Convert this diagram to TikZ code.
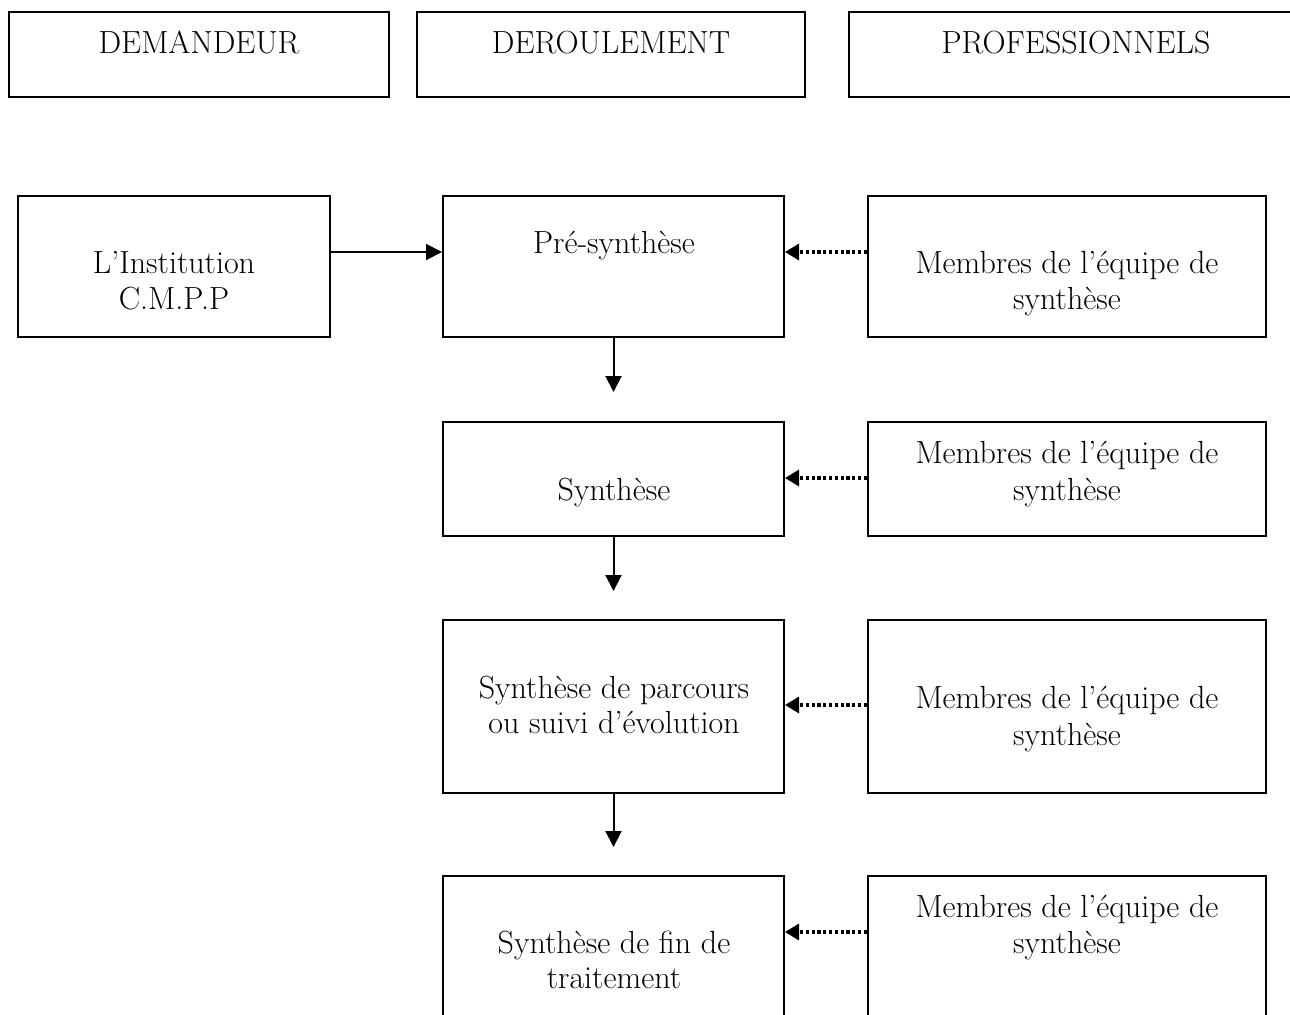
\documentclass[tikz,border=0pt]{standalone}
\usepackage{fontspec}
\usetikzlibrary{arrows.meta,fit}
\begin{document}
\begin{tikzpicture}[x=0.5pt,y=-0.5pt,
  box/.style={draw,line width=1pt,inner sep=0pt},
  lbl/.style={font=\fontsize{16}{18}\selectfont, inner sep=0pt, anchor=base},
  arr/.style={line width=1pt,-{Triangle[length=8pt,width=8pt]}},
  dotarr/.style={line width=1.6pt, dash pattern=on 1.6pt off 1.3pt,
                 -{Triangle[length=7pt,width=8pt]}}]
\clip (0,0) rectangle (1290,1014);

% column headers
\node[box, fit={(9,12) (389,97)}] (hdem) {};
\node[box, fit={(417,12) (805,97)}] (hder) {};
\node[box, fit={(849,12) (1300,97)}] (hpro) {};
\node[lbl] (thdem) at (199,53) {DEMANDEUR};
\node[lbl] (thder) at (611,53) {DEROULEMENT};
\node[lbl] (thpro) at (1076,53) {PROFESSIONNELS};

% row 1
\node[box, fit={(18,196) (330,337)}] (inst) {};
\node[box, fit={(443,196) (784,337)}] (pre) {};
\node[box, fit={(868,196) (1266,337)}] (m1) {};
\node[lbl] (tinsta) at (174,273) {L’Institution};
\node[lbl] (tinstb) at (174,309) {C.M.P.P};
\node[lbl] (tpre) at (614,253) {Pré-synthèse};
\node[lbl] (tm1a) at (1067,273) {Membres de l’équipe de};
\node[lbl] (tm1b) at (1067,309) {synthèse};

% row 2
\node[box, fit={(443,422) (784,536)}] (syn) {};
\node[box, fit={(868,422) (1266,536)}] (m2) {};
\node[lbl] (tsyn) at (614,500) {Synthèse};
\node[lbl] (tm2a) at (1067,463) {Membres de l’équipe de};
\node[lbl] (tm2b) at (1067,500) {synthèse};

% row 3
\node[box, fit={(443,620) (784,793)}] (par) {};
\node[box, fit={(868,620) (1266,793)}] (m3) {};
\node[lbl] (tpara) at (614,698) {Synthèse de parcours};
\node[lbl] (tparb) at (614,733) {ou suivi d’évolution};
\node[lbl] (tm3a) at (1067,708) {Membres de l’équipe de};
\node[lbl] (tm3b) at (1067,745) {synthèse};

% row 4 (runs past the lower edge)
\node[box, fit={(443,876) (784,1040)}] (fin) {};
\node[box, fit={(868,876) (1266,1040)}] (m4) {};
\node[lbl] (tfina) at (614,953) {Synthèse de fin de};
\node[lbl] (tfinb) at (614,988) {traitement};
\node[lbl] (tm4a) at (1067,917) {Membres de l’équipe de};
\node[lbl] (tm4b) at (1067,953) {synthèse};

% flow
\draw[arr] ([yshift=-28.5pt]inst.north east) -- ([yshift=-28.5pt]pre.north west);
\draw[arr] (pre.south) -- ([yshift=14.5pt]syn.north);
\draw[arr] (syn.south) -- ([yshift=14pt]par.north);
\draw[arr] (par.south) -- ([yshift=14pt]fin.north);

% contributions of the team
\draw[dotarr] ([yshift=-28.5pt]m1.north west) -- ([yshift=-28.5pt]pre.north east);
\draw[dotarr] ([yshift=-28.5pt]m2.north west) -- ([yshift=-28.5pt]syn.north east);
\draw[dotarr] ([yshift=-43pt]m3.north west) -- ([yshift=-43pt]par.north east);
\draw[dotarr] ([yshift=-28.5pt]m4.north west) -- ([yshift=-28.5pt]fin.north east);
\end{tikzpicture}
\end{document}
